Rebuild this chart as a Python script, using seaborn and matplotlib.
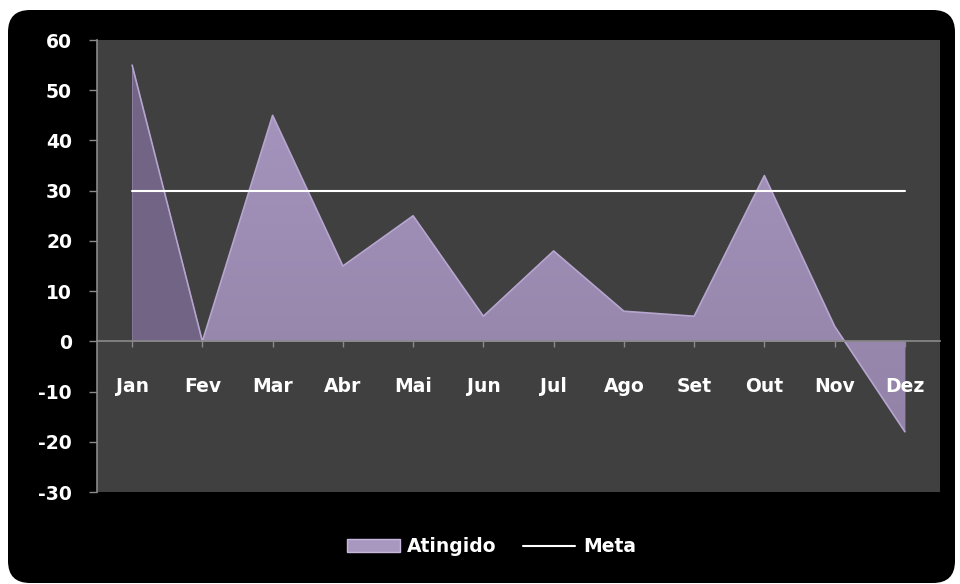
import matplotlib
matplotlib.use("Agg")
import matplotlib.pyplot as plt
import seaborn as sns
import pandas as pd
import numpy as np
from matplotlib.patches import FancyBboxPatch, Patch
from matplotlib.lines import Line2D
from matplotlib.transforms import IdentityTransform
from matplotlib.colors import LinearSegmentedColormap

meses = ["Jan", "Fev", "Mar", "Abr", "Mai", "Jun", "Jul", "Ago", "Set", "Out", "Nov", "Dez"]
atingido = [55, 0, 45, 15, 25, 5, 18, 6, 5, 33, 3, -18]
meta = [30, 30, 30, 30, 30, 30, 30, 30, 30, 30, 30, 30]
yticks = [-30, -20, -10, 0, 10, 20, 30, 40, 50, 60]

df = pd.DataFrame({"mes": meses, "x": range(len(meses)), "Atingido": atingido, "Meta": meta})

sns.set_style("white")
plt.rcParams["font.family"] = ["DejaVu Sans"]
plt.rcParams["font.weight"] = "bold"
FS = 13.5

W, H = 960, 584
fig = plt.figure(figsize=(9.6, 5.84), dpi=100)
fig.patch.set_facecolor("white")
bg = FancyBboxPatch((8, 1), 947, 573,
                    boxstyle="round,pad=0,rounding_size=22",
                    transform=IdentityTransform(), facecolor="black", edgecolor="none",
                    zorder=-10)
fig.patches.append(bg)

ax = fig.add_axes([97 / W, 1 - 492 / H, 843 / W, 452 / H])
ax.set_facecolor("#404040")
ax.set_axisbelow(False)

# area with subtle vertical gradient
poly = ax.fill_between(df["x"], df["Atingido"], 0, color="#9e8db5", linewidth=0, zorder=2)
cmap = LinearSegmentedColormap.from_list("g", ["#9282a6", "#a898c2"])
grad = np.linspace(0, 1, 256).reshape(-1, 1)
im = ax.imshow(grad, extent=(-0.5, len(meses) - 0.5, -20, 60), origin="lower",
               cmap=cmap, aspect="auto", zorder=2.05)
im.set_clip_path(poly.get_paths()[0], transform=ax.transData)
# darker shaded first segment (lighting effect)
ax.fill_between(df["x"][:2], df["Atingido"][:2], 0, color="#726484", linewidth=0, zorder=2.1)
sns.lineplot(data=df, x="x", y="Atingido", ax=ax, color="#b6a6cf", linewidth=1.2, zorder=3,
             legend=False)
sns.lineplot(data=df, x="x", y="Meta", ax=ax, color="white", linewidth=1.5, zorder=4,
             legend=False)

ax.set_xlim(-0.5, len(meses) - 0.5)
ax.set_ylim(-30, 60)
ax.set_yticks(yticks)
ax.set_yticklabels([str(v) for v in yticks])
ax.set_xticks(df["x"])
ax.set_xticklabels(meses)
ax.set_xlabel("")
ax.set_ylabel("")

for s in ["top", "right"]:
    ax.spines[s].set_visible(False)
ax.spines["left"].set_color("#8a8a8a")
ax.spines["left"].set_linewidth(1.2)
ax.spines["bottom"].set_position(("data", 0))
ax.spines["bottom"].set_color("#8a8a8a")
ax.spines["bottom"].set_linewidth(1.2)
ax.spines["bottom"].set_zorder(5)
ax.tick_params(axis="y", direction="out", length=6, width=1, color="#8a8a8a", pad=12,
               left=True, labelcolor="white", labelsize=FS)
ax.tick_params(axis="x", direction="out", length=4, width=1, color="#8a8a8a", pad=22,
               bottom=True, labelcolor="white", labelsize=FS)
for t in ax.get_xticklabels() + ax.get_yticklabels():
    t.set_fontweight("bold")
ax.xaxis.set_zorder(6)
ax.yaxis.set_zorder(6)
ax.grid(False)

handles = [Patch(facecolor="#a898c0", edgecolor="#c8b8e0", label="Atingido"),
           Line2D([0], [0], color="white", linewidth=1.5, label="Meta")]
leg = fig.legend(handles=handles, loc="center", bbox_to_anchor=(0.512, 0.064), ncol=2,
                 frameon=False, prop={"size": FS, "weight": "bold"}, handlelength=2.8,
                 handleheight=0.7, columnspacing=1.4, handletextpad=0.4)
for t in leg.get_texts():
    t.set_color("white")

fig.savefig("out.png", dpi=100, facecolor=fig.get_facecolor())
